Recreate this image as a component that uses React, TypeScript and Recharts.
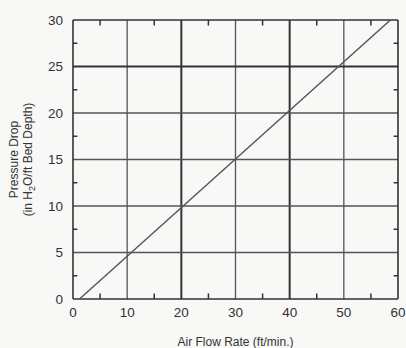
import React from "react";
import {
  ComposedChart,
  Line,
  XAxis,
  YAxis,
  ReferenceLine,
  Label,
} from "recharts";

const lineData = [
  { flow: 1.2, drop: 0 },
  { flow: 58.6, drop: 30 },
];

const xTicks = [0, 10, 20, 30, 40, 50, 60];
const yTicks = [0, 5, 10, 15, 20, 25, 30];
const xGridThin = [10, 30, 50];
const xGridThick = [20, 40];
const yGridThin = [5, 10, 15, 20];
const yGridThick = [25];
const xMinor = [5, 15, 25, 35, 45, 55];
const yMinor = [2.5, 7.5, 12.5, 17.5, 22.5, 27.5];

const TXT = "#333";
const FONT = "Liberation Sans, Arial, sans-serif";

const YLabel = (props: any) => {
  const { viewBox } = props;
  const cy = viewBox.y + viewBox.height / 2;
  const x1 = 18;
  const x2 = 32;
  return (
    <g fill={TXT} fontFamily={FONT} fontSize={12}>
      <text x={x1} y={cy} transform={`rotate(-90 ${x1} ${cy})`} textAnchor="middle">
        Pressure Drop
      </text>
      <text x={x2} y={cy} transform={`rotate(-90 ${x2} ${cy})`} textAnchor="middle">
        (in H
        <tspan fontSize={9} dy={3}>2</tspan>
        <tspan dy={-3}>O/ft Bed Depth)</tspan>
      </text>
    </g>
  );
};

const XLabel = (props: any) => {
  const { viewBox } = props;
  const cx = viewBox.x + viewBox.width / 2;
  return (
    <text x={cx} y={346} textAnchor="middle" fill={TXT} fontFamily={FONT} fontSize={12}>
      Air Flow Rate (ft/min.)
    </text>
  );
};

export default function App() {
  return (
    <div style={{ position: "absolute", left: 0, top: 0, width: 406, height: 348, background: "#f8f8f6" }}>
      <ComposedChart
        width={406}
        height={348}
        data={lineData}
        margin={{ top: 20, right: 8, bottom: 19, left: 13 }}
      >
        <XAxis
          type="number"
          dataKey="flow"
          domain={[0, 60]}
          ticks={xTicks}
          tickLine={false}
          axisLine={false}
          height={30}
          tick={{ fill: TXT, fontSize: 13.5, fontFamily: FONT }}
          tickMargin={2}
          allowDataOverflow
        >
          <Label content={<XLabel />} />
        </XAxis>
        <YAxis
          type="number"
          dataKey="drop"
          domain={[0, 30]}
          ticks={yTicks}
          tickLine={false}
          axisLine={false}
          width={60}
          tick={{ fill: TXT, fontSize: 13.5, fontFamily: FONT }}
          tickMargin={4}
          allowDataOverflow
        >
          <Label content={<YLabel />} />
        </YAxis>
        {xGridThin.map((v) => (
          <ReferenceLine key={"xt" + v} x={v} stroke="#555" strokeWidth={1.3} />
        ))}
        {xGridThick.map((v) => (
          <ReferenceLine key={"xk" + v} x={v} stroke="#333" strokeWidth={2} />
        ))}
        {yGridThin.map((v) => (
          <ReferenceLine key={"yt" + v} y={v} stroke="#555" strokeWidth={1.3} />
        ))}
        {yGridThick.map((v) => (
          <ReferenceLine key={"yk" + v} y={v} stroke="#333" strokeWidth={2} />
        ))}
        {xMinor.map((v) => (
          <ReferenceLine key={"xmb" + v} segment={[{ x: v, y: 0 }, { x: v, y: 0.6 }]} stroke="#333" strokeWidth={1.5} />
        ))}
        {xMinor.map((v) => (
          <ReferenceLine key={"xmt" + v} segment={[{ x: v, y: 30 }, { x: v, y: 29.4 }]} stroke="#333" strokeWidth={1.5} />
        ))}
        {yMinor.map((v) => (
          <ReferenceLine key={"yml" + v} segment={[{ x: 0, y: v }, { x: 0.8, y: v }]} stroke="#333" strokeWidth={1.5} />
        ))}
        {yMinor.map((v) => (
          <ReferenceLine key={"ymr" + v} segment={[{ x: 60, y: v }, { x: 59.2, y: v }]} stroke="#333" strokeWidth={1.5} />
        ))}
        <ReferenceLine x={0} stroke="#333" strokeWidth={1.6} />
        <ReferenceLine x={60} stroke="#333" strokeWidth={1.6} />
        <ReferenceLine y={0} stroke="#333" strokeWidth={1.6} />
        <ReferenceLine y={30} stroke="#333" strokeWidth={1.6} />
        <Line
          type="linear"
          dataKey="drop"
          stroke="#555"
          strokeWidth={1.4}
          dot={false}
          isAnimationActive={false}
        />
      </ComposedChart>
    </div>
  );
}
